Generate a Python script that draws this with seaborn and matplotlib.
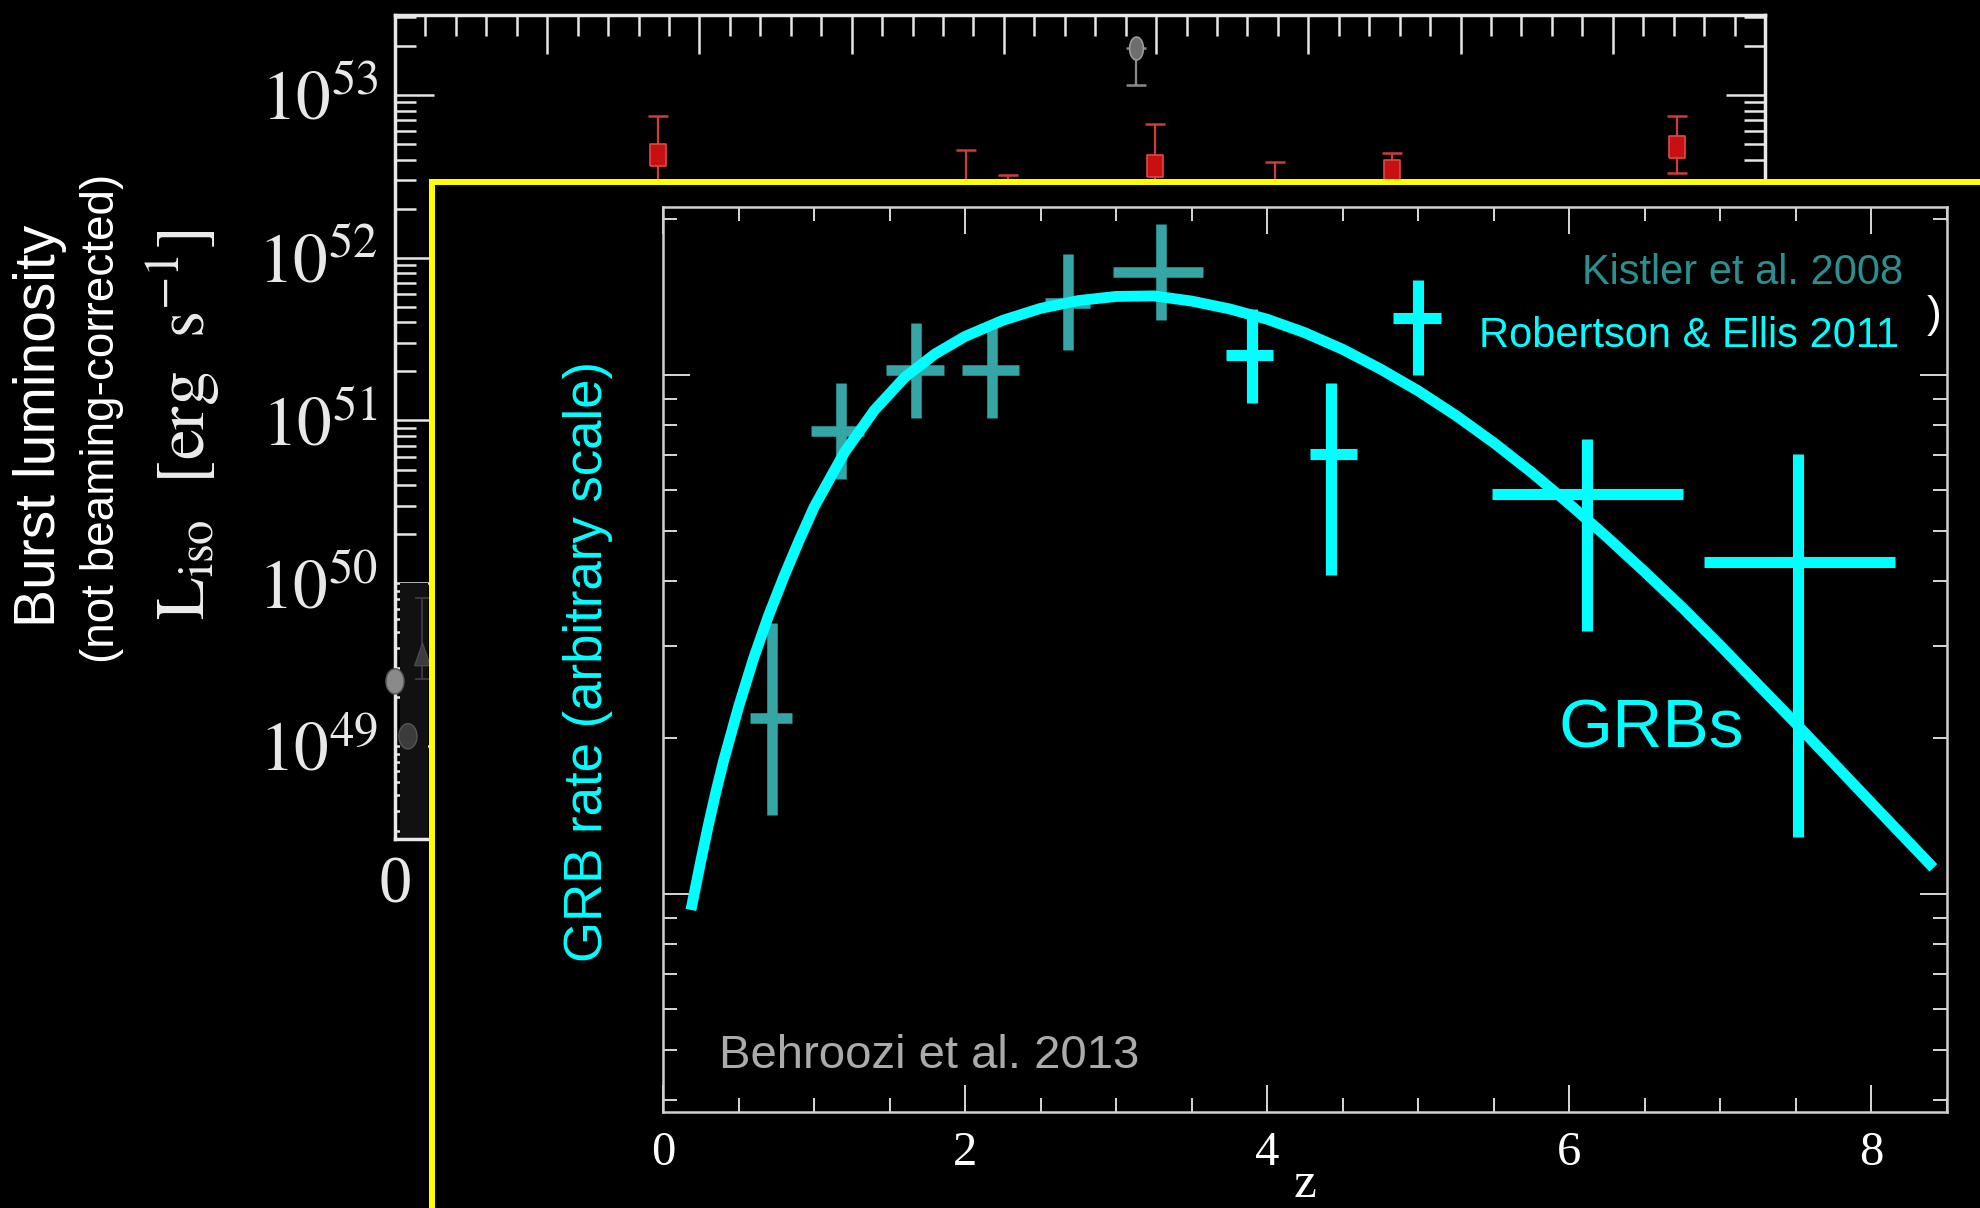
import numpy as np
import matplotlib
matplotlib.use("Agg")
import matplotlib.pyplot as plt
import seaborn as sns
from matplotlib.patches import Rectangle
from matplotlib.ticker import (LogLocator, MultipleLocator, NullFormatter,
                               FixedLocator, FuncFormatter)

W, H = 1981, 1208

# ---------------- back panel: isotropic burst luminosity vs redshift ----------------
lum_z = [1.73, 3.75, 4.03, 4.99, 5.78, 6.55, 8.42]
lum_val = [4.27e52, 2.0e52, 2.2e52, 3.63e52, 2.0e52, 3.39e52, 4.79e52]
lum_hi = [7.41e52, 4.57e52, 3.24e52, 6.6e52, 3.89e52, 4.37e52, 7.41e52]
lum_lo = [1.9e52, 0.9e52, 1.2e52, 1.7e52, 1.1e52, 1.9e52, 3.31e52]

lum_gray_z = [4.87]
lum_gray_val = [1.95e53]
lum_gray_lo = [1.15e53]

lowz_circle_z = [0.0, 0.085]
lowz_circle_val = [2.5e49, 1.15e49]
lowz_circle_color = ["#8a8a8a", "#3c3c3c"]
lowz_tri_z = [0.18]
lowz_tri_val = [3.7e49]
lowz_tri_lo = [2.57e49]
lowz_tri_hi = [8.1e49]

lum_xticks = [0, 1, 2, 3, 4, 5, 6, 7, 8, 9]
lum_xticklabels = ["0", "1", "2", "3", "4", "5", "6", "7", "8", "9"]
lum_ytick_exp = [49, 50, 51, 52, 53]

# ---------------- front panel: GRB rate vs redshift ----------------
# Kistler et al. 2008
kistler_z = [0.72, 1.178, 1.677, 2.176, 2.684, 3.294]
kistler_z_lo = [0.576, 0.977, 1.476, 1.978, 2.531, 2.98]
kistler_z_hi = [0.854, 1.332, 1.86, 2.357, 2.829, 3.578]
kistler_rate = [0.2178, 0.7798, 1.0198, 1.0198, 1.3772, 1.5776]
kistler_rate_lo = [0.1420, 0.631, 0.8241, 0.8241, 1.1169, 1.2735]
kistler_rate_hi = [0.3327, 0.9652, 1.2589, 1.2589, 1.7061, 1.9498]

# Robertson & Ellis 2011
re_z = [3.897, 4.419, 4.997, 6.118, 7.511]
re_z_lo = [3.727, 4.28, 4.83, 5.487, 6.89]
re_z_hi = [4.04, 4.597, 5.149, 6.755, 8.157]
re_rate = [1.0905, 0.7047, 1.2882, 0.5895, 0.4357]
re_rate_lo = [0.8810, 0.4121, 0.9970, 0.3214, 0.1288]
re_rate_hi = [1.3366, 0.9647, 1.5241, 0.7516, 0.7047]

# Behroozi et al. 2013 based rate curve
curve_z = [0.185, 0.25, 0.30, 0.35, 0.40, 0.50, 0.60, 0.70, 0.80, 0.90,
           1.00, 1.20, 1.40, 1.60, 1.80, 2.00, 2.25, 2.50, 2.75, 3.00,
           3.25, 3.50, 3.75, 4.00, 4.25, 4.50, 4.75, 5.00, 5.25, 5.50,
           5.75, 6.00, 6.25, 6.50, 6.75, 7.00, 7.50, 8.00, 8.41]
curve_rate = [0.0931, 0.1156, 0.1355, 0.1570, 0.1799, 0.2291, 0.2844, 0.3443,
              0.4083, 0.4786, 0.5559, 0.7079, 0.8551, 0.9886, 1.0965, 1.1858,
              1.2735, 1.3428, 1.3900, 1.4158, 1.4191, 1.3868, 1.3397, 1.2794,
              1.2050, 1.1194, 1.0257, 0.9311, 0.8345, 0.7396, 0.6486, 0.5636,
              0.4864, 0.4169, 0.3556, 0.3006, 0.2128, 0.1496, 0.1122]

rate_xticks = [0, 2, 4, 6, 8]
rate_xticklabels = ["0", "2", "4", "6", "8"]

# ---------------- style ----------------
sns.set_theme(style="ticks", rc={
    "figure.facecolor": "black",
    "axes.facecolor": "black",
    "savefig.facecolor": "black",
    "text.color": "white",
    "axes.labelcolor": "white",
})
plt.rcParams["font.family"] = ["Liberation Sans", "DejaVu Sans"]
plt.rcParams["mathtext.fontset"] = "stix"

CYAN = "#00ffff"
TEAL = "#35a5a5"
TEAL_TEXT = "#2a8f8f"


def fx(px):
    return px / W


def fy(py):
    return 1 - py / H


fig = plt.figure(figsize=(W / 100, H / 100), dpi=100)

# ---------------- back axes ----------------
ax_b = fig.add_axes([fx(395), fy(839), (1765 - 395) / W, (839 - 15) / H], zorder=0)
ax_b.set_facecolor("black")
ax_b.set_yscale("log")
ax_b.set_xlim(0, 9)
ax_b.set_ylim(10 ** 48.43, 10 ** 53.49)

ax_b.fill_between([0.03, 0.22], 10 ** 48.43, 10 ** 50.0, color="#111111", lw=0, zorder=1)

rect_marker = [(-0.37, -0.5), (0.37, -0.5), (0.37, 0.5), (-0.37, 0.5), (-0.37, -0.5)]
theta = np.linspace(0, 2 * np.pi, 40)
oval_marker = list(zip(0.3 * np.cos(theta), 0.5 * np.sin(theta)))
round_marker = list(zip(0.36 * np.cos(theta), 0.5 * np.sin(theta)))
tri_marker = [(-0.35, -0.5), (0.35, -0.5), (0.0, 0.5), (-0.35, -0.5)]

ax_b.errorbar(lum_z, lum_val,
              yerr=[np.subtract(lum_val, lum_lo), np.subtract(lum_hi, lum_val)],
              fmt="none", ecolor="#d23b3b", elinewidth=1.6, capsize=7.5,
              capthick=1.8, zorder=2)
sns.scatterplot(x=lum_z, y=lum_val, ax=ax_b, marker=rect_marker, s=272,
                color="#c81010", edgecolor="#e04848", linewidth=1.2,
                zorder=3, legend=False)

ax_b.errorbar(lum_gray_z, lum_gray_val,
              yerr=[np.subtract(lum_gray_val, lum_gray_lo), [0]],
              fmt="none", ecolor="#8a8a8a", elinewidth=1.6, capsize=7.5,
              capthick=1.8, zorder=2)
sns.scatterplot(x=lum_gray_z, y=lum_gray_val, ax=ax_b, marker=oval_marker,
                s=272, color="#6e6e6e", edgecolor="#9a9a9a", linewidth=1.2,
                zorder=3, legend=False)

ax_b.errorbar(lowz_tri_z, lowz_tri_val,
              yerr=[np.subtract(lowz_tri_val, lowz_tri_lo),
                    np.subtract(lowz_tri_hi, lowz_tri_val)],
              fmt="none", ecolor="#3a3a3a", elinewidth=1.4, capsize=5,
              capthick=1.4, zorder=2, clip_on=False)
sns.scatterplot(x=lowz_tri_z, y=lowz_tri_val, ax=ax_b, marker=tri_marker,
                s=260, color="#3c3c3c", edgecolor="#4a4a4a", linewidth=1,
                zorder=3, legend=False, clip_on=False)
sns.scatterplot(x=lowz_circle_z, y=lowz_circle_val, ax=ax_b,
                marker=round_marker, s=330, c=lowz_circle_color,
                edgecolor="#555555", linewidth=1, zorder=3, legend=False,
                clip_on=False)

ax_b.xaxis.set_major_locator(FixedLocator(lum_xticks))
ax_b.set_xticklabels(lum_xticklabels, fontfamily="Liberation Serif", fontsize=48,
                     color="#e8e8e8")
ax_b.xaxis.set_minor_locator(MultipleLocator(0.2))
ax_b.yaxis.set_major_locator(FixedLocator([10.0 ** e for e in lum_ytick_exp]))
ax_b.yaxis.set_major_formatter(FuncFormatter(
    lambda v, pos: r"$10^{%d}$" % int(round(np.log10(v)))))
ax_b.yaxis.set_minor_locator(LogLocator(base=10, subs=np.arange(2, 10), numticks=20))
ax_b.yaxis.set_minor_formatter(NullFormatter())
ax_b.tick_params(which="both", direction="in", top=True, right=True,
                 color="#e6e6e6", width=1.8)
ax_b.tick_params(which="major", length=28)
ax_b.tick_params(which="minor", length=15)
ax_b.tick_params(axis="y", which="major", labelsize=50, labelcolor="#e8e8e8", pad=12)
ax_b.tick_params(axis="x", which="major", pad=12)
for sp in ax_b.spines.values():
    sp.set_color("#e8e8e8")
    sp.set_linewidth(2.5)

# ---------------- front panel frame ----------------
panel = Rectangle((fx(432), -0.05), 1.0, (H - 182) / H + 0.05,
                  transform=fig.transFigure, facecolor="black",
                  edgecolor="#ffff00", linewidth=4.3, zorder=1)
fig.add_artist(panel)

# ---------------- front axes ----------------
ax_i = fig.add_axes([fx(663), fy(1112), (1947 - 663) / W, (1112 - 207) / H], zorder=2)
ax_i.set_facecolor("none")
ax_i.set_yscale("log")
ax_i.set_xlim(0, 8.5)
ax_i.set_ylim(10 ** -1.4204, 10 ** 0.3233)

ax_i.errorbar(kistler_z, kistler_rate,
              xerr=[np.subtract(kistler_z, kistler_z_lo), np.subtract(kistler_z_hi, kistler_z)],
              yerr=[np.subtract(kistler_rate, kistler_rate_lo),
                    np.subtract(kistler_rate_hi, kistler_rate)],
              fmt="none", ecolor=TEAL, elinewidth=7.6, capsize=0, zorder=2)
sns.lineplot(x=curve_z, y=curve_rate, ax=ax_i, color=CYAN, linewidth=7.8,
             solid_capstyle="butt", solid_joinstyle="round", sort=False,
             estimator=None, zorder=3)
ax_i.errorbar(re_z, re_rate,
              xerr=[np.subtract(re_z, re_z_lo), np.subtract(re_z_hi, re_z)],
              yerr=[np.subtract(re_rate, re_rate_lo), np.subtract(re_rate_hi, re_rate)],
              fmt="none", ecolor=CYAN, elinewidth=8.0, capsize=0, zorder=4)

ax_i.xaxis.set_major_locator(FixedLocator(rate_xticks))
ax_i.set_xticklabels(rate_xticklabels, fontfamily="Liberation Serif", fontsize=35,
                     color="white")
ax_i.xaxis.set_minor_locator(MultipleLocator(0.5))
ax_i.yaxis.set_major_locator(LogLocator(base=10, numticks=10))
ax_i.yaxis.set_minor_locator(LogLocator(base=10, subs=np.arange(2, 10), numticks=20))
ax_i.yaxis.set_major_formatter(NullFormatter())
ax_i.yaxis.set_minor_formatter(NullFormatter())
ax_i.tick_params(which="both", direction="in", top=True, right=True,
                 color="#d8d8d8", width=1.4, labelleft=False)
ax_i.tick_params(which="major", length=19.5)
ax_i.tick_params(which="minor", length=10)
ax_i.tick_params(axis="x", which="major", pad=14)
for sp in ax_i.spines.values():
    sp.set_color("#d0d0d0")
    sp.set_linewidth(1.8)
ax_i.set_xlabel("z", fontfamily="Liberation Serif", fontsize=37, color="white")
ax_i.xaxis.set_label_coords(0.5, -0.0545)
ax_i.set_ylabel("")

# ---------------- annotations ----------------
fig.text(fx(1903), fy(284), "Kistler et al. 2008", ha="right", va="baseline",
         fontsize=30, color=TEAL_TEXT, zorder=5)
fig.text(fx(1899), fy(347), "Robertson & Ellis 2011", ha="right", va="baseline",
         fontsize=30, color=CYAN, zorder=5)
fig.text(fx(1559), fy(747), "GRBs", ha="left", va="baseline",
         fontsize=50, color=CYAN, zorder=5)
fig.text(fx(719), fy(1068), "Behroozi et al. 2013", ha="left", va="baseline",
         fontsize=34, color="#ababab", zorder=5)
fig.text(fx(1934), fy(315), ")", ha="center", va="center",
         fontsize=32, color="white", zorder=5)
fig.text(fx(588), fy(661), "GRB rate (arbitrary scale)", rotation=90,
         ha="center", va="center", fontsize=38, color=CYAN, zorder=5)

fig.text(fx(40), fy(426), "Burst luminosity", rotation=90, ha="center",
         va="center", fontsize=41, color="white")
fig.text(fx(102), fy(418), "(not beaming-corrected)", rotation=90, ha="center",
         va="center", fontsize=33, color="white")
fig.text(fx(183), fy(425), r"$\mathrm{L_{iso}}\ \ \mathrm{[erg\ \ s^{-1}]}$",
         rotation=90, ha="center", va="center", fontsize=50, color="#ececec")

fig.savefig("out.png", dpi=100, facecolor="black")
